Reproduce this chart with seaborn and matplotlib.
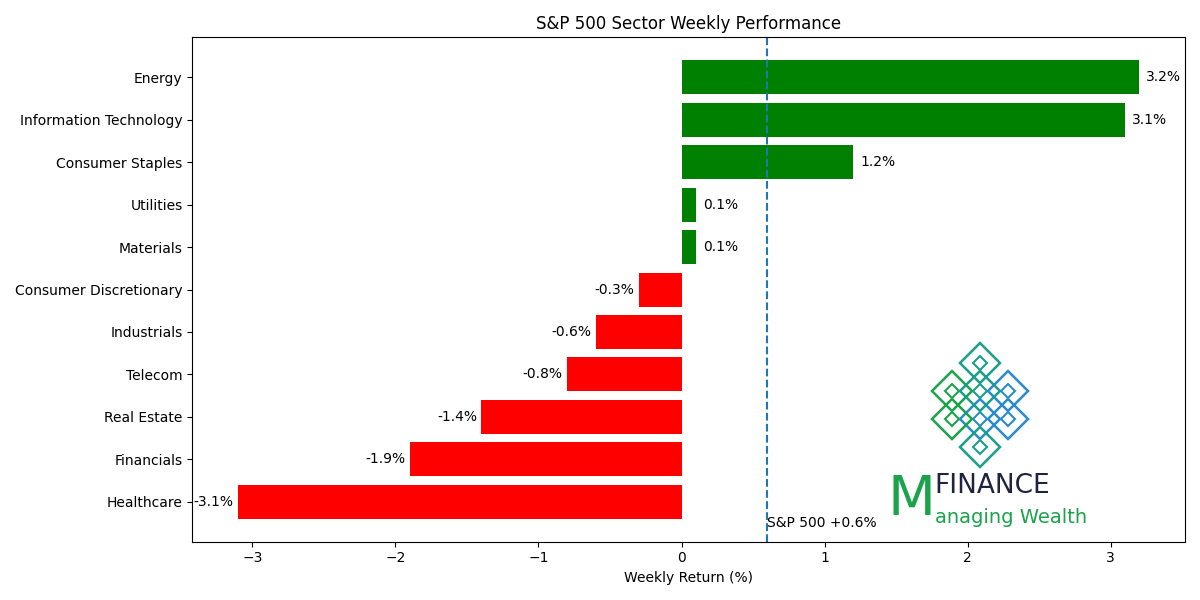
import matplotlib
matplotlib.use("Agg")
import matplotlib.pyplot as plt
import matplotlib.patches as mpatches
import seaborn as sns
import pandas as pd

sectors = ['Energy', 'Information Technology', 'Consumer Staples', 'Utilities', 'Materials',
           'Consumer Discretionary', 'Industrials', 'Telecom', 'Real Estate', 'Financials', 'Healthcare']
returns = [3.2, 3.1, 1.2, 0.1, 0.1, -0.3, -0.6, -0.8, -1.4, -1.9, -3.1]
sp500 = 0.6

df = pd.DataFrame({'Sector': sectors, 'Return': returns})
colors = ['green' if r > 0 else 'red' for r in returns]

fig, ax = plt.subplots(figsize=(12, 6), dpi=100)
sns.barplot(data=df, x='Return', y='Sector', hue='Sector', palette=colors,
            legend=False, saturation=1, width=0.8, ax=ax)

for i, r in enumerate(returns):
    if r > 0:
        ax.text(r + 0.05, i, f'{r:.1f}%', va='center', ha='left', fontsize=10)
    else:
        ax.text(r - 0.03, i, f'{r:.1f}%', va='center', ha='right', fontsize=10)

ax.axvline(sp500, linestyle='--', color='tab:blue')
ax.text(sp500, len(sectors) - 0.5, f'S&P 500 +{sp500}%', va='center', ha='left', fontsize=10)

ax.set_xlim(-3.42, 3.52)
ax.set_ylim(len(sectors) - 0.06, -0.94)
ax.set_title('S&P 500 Sector Weekly Performance')
ax.set_xlabel('Weekly Return (%)')
ax.set_ylabel('')

# logo (approximation), drawn in figure pixels so diamonds stay square
cx, cy = 980, 195  # pixel centre (from bottom)
offsets = [(0, 42), (-28, 14), (28, 14), (0, -14), (-28, -14), (28, -14), (0, 14), (0, -42)]
cols = ['#1a9f8a', '#1aa34a', '#2a8ad0', '#2a8ad0', '#1aa34a', '#2a8ad0', '#1a9f8a', '#1a9f8a']
for (dx, dy), c in zip(offsets, cols):
    ax.add_patch(mpatches.RegularPolygon((cx + dx, cy + dy), 4, radius=20, orientation=0,
                                         transform=None, fill=False,
                                         edgecolor=c, linewidth=1.8))
    ax.add_patch(mpatches.RegularPolygon((cx + dx, cy + dy), 4, radius=7, orientation=0,
                                         transform=None, fill=False,
                                         edgecolor=c, linewidth=1.5))
ax.text(0.70, 0.03, 'M', transform=ax.transAxes, fontsize=40, color='#1aa34a',
        va='bottom', family='Liberation Sans Narrow')
ax.text(0.748, 0.085, 'FINANCE', transform=ax.transAxes, fontsize=19, color='#1f2340',
        va='bottom', family='Liberation Sans Narrow')
ax.text(0.748, 0.03, 'anaging Wealth', transform=ax.transAxes, fontsize=14, color='#1aa34a',
        va='bottom', family='Liberation Sans Narrow')

plt.tight_layout()
plt.savefig('out.png')
